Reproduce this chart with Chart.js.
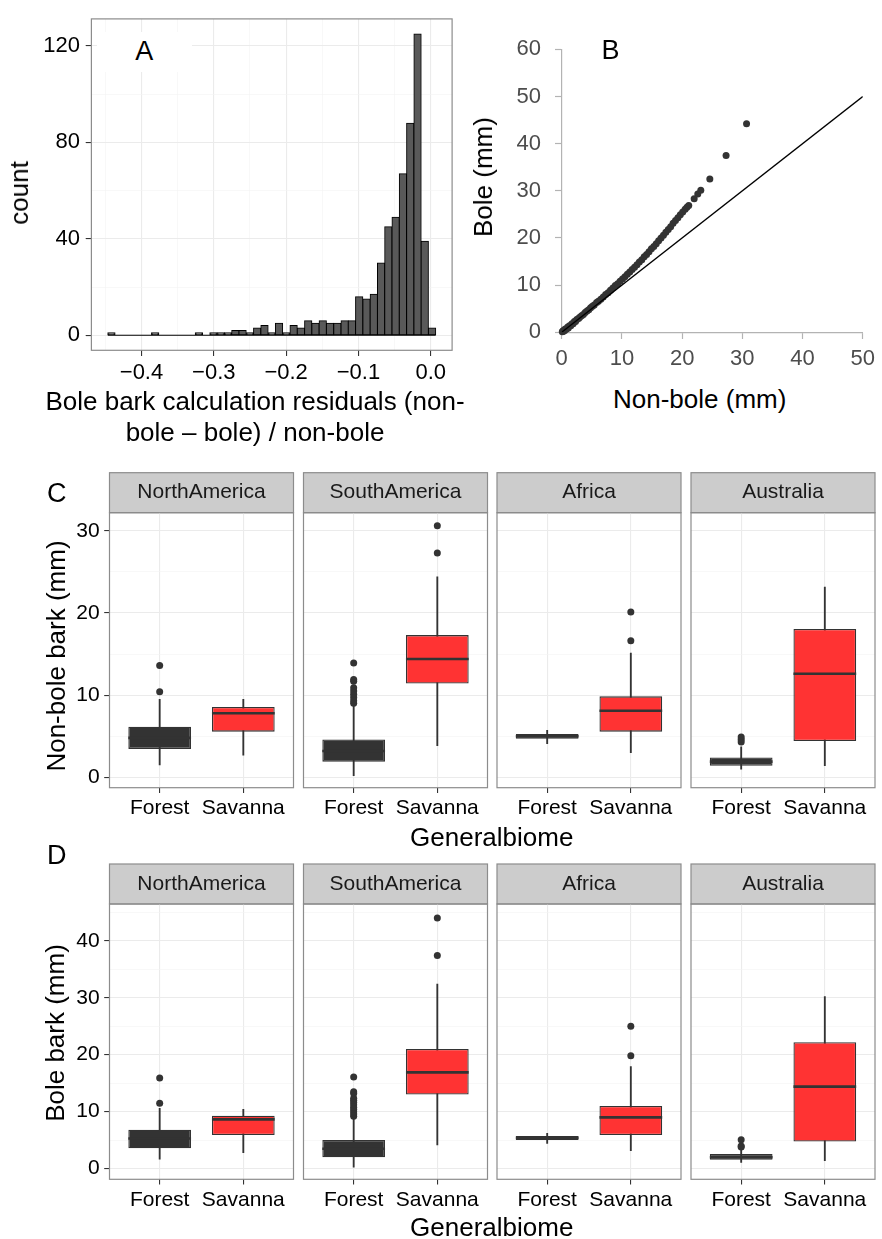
<!DOCTYPE html>
<html><head><meta charset="utf-8">
<script src="https://cdn.jsdelivr.net/npm/chart.js@4.4.0/dist/chart.umd.min.js"></script>
<style>
html,body{margin:0;padding:0;background:#fff;}
body{width:882px;height:1239px;position:relative;overflow:hidden;font-family:'Liberation Sans',Arial,Helvetica,sans-serif;}
canvas{position:absolute;}
.t{position:absolute;white-space:nowrap;line-height:1;color:#000;font-size:26px;}
.rot{transform:translate(-50%,-50%) rotate(-90deg);}
.hc{transform:translateX(-50%);}
.lab{font-size:27px;}
</style></head><body>
<div id="plots"></div>
<div class="t rot" style="left:19.3px;top:192.7px">count</div>
<div class="t hc" style="left:255px;top:386.2px;line-height:31px;text-align:center">Bole bark calculation residuals (non-<br>bole – bole) / non-bole</div>
<div class="t lab" style="left:96.7px;top:31.7px;width:95px;height:40px;line-height:38px;text-align:center;background:#fff">A</div>
<div class="t lab hc" style="left:610.5px;top:37.2px">B</div>
<div class="t rot" style="left:482.7px;top:176.7px">Bole (mm)</div>
<div class="t hc" style="left:699.7px;top:386.3px">Non-bole (mm)</div>
<div class="t lab hc" style="left:56.7px;top:479.9px">C</div>
<div class="t rot" style="left:56px;top:656px">Non-bole bark (mm)</div>
<div class="t hc" style="left:491.7px;top:823.7px">Generalbiome</div>
<div class="t lab hc" style="left:56.7px;top:842.2px">D</div>
<div class="t rot" style="left:55px;top:1033px">Bole bark (mm)</div>
<div class="t hc" style="left:491.7px;top:1214px">Generalbiome</div>
<script>
// ---------------- DATA ----------------
// Panel A: histogram of residuals (bin centres, counts)
const histBinCenters = [-0.4416,-0.4315,-0.4214,-0.4114,-0.4013,-0.3912,-0.3811,-0.3710,-0.3610,-0.3509,
  -0.3408,-0.3307,-0.3206,-0.3106,-0.3005,-0.2904,-0.2803,-0.2702,-0.2602,-0.2501,
  -0.2400,-0.2299,-0.2198,-0.2098,-0.1997,-0.1896,-0.1795,-0.1694,-0.1594,-0.1493,
  -0.1392,-0.1291,-0.1190,-0.1090,-0.0989,-0.0888,-0.0787,-0.0686,-0.0586,-0.0485,
  -0.0384,-0.0283,-0.0182,-0.0082,0.0019];
const histCounts = [1,0,0,0,0,0,1,0,0,0, 0,0,1,0,1,1,1,2,2,1, 3,4,1,5,1,4,3,6,5,6, 5,5,6,6,16,15,17,30,45,49, 67,88,125,39,3];
const histBinWidth = 0.01008;
const histXTicks = [-0.45,-0.4,-0.35,-0.3,-0.25,-0.2,-0.15,-0.1,-0.05,0];
const histXMajor = [-0.4,-0.3,-0.2,-0.1,0];
const histYTicks = [0,20,40,60,80,100,120];
const histYMajor = [0,40,80,120];

// Panel B: bole vs non-bole bark thickness (mm)
const nonBoleMm = [0.1,0.2,0.3,0.4,0.5,0.6,0.8,1.0,1.1,1.3,1.5,1.7,1.9,2.1,2.3,2.5,2.8,3.0,3.3,3.6,
  3.9,4.2,4.5,4.8,5.1,5.4,5.8,6.1,6.5,6.9,7.3,7.7,8.1,8.5,8.9,9.3,9.7,10.1,10.5,10.9,
  11.3,11.7,12.1,12.5,12.9,13.3,13.7,14.1,14.5,14.9,15.3,15.7,16.1,16.5,16.9,17.3,17.7,18.1,18.5,18.9,
  19.3,19.7,20.1,20.5,20.8,21.1,22.0,22.6,23.1,24.6,27.3,30.7];
const boleMm = [0.1,0.3,0.2,0.5,0.4,0.7,0.7,1.1,0.9,1.4,1.4,1.8,1.8,2.3,2.3,2.7,2.9,3.2,3.5,3.8,
  4.2,4.5,4.8,5.2,5.5,5.8,6.3,6.6,7.0,7.5,8.0,8.4,8.9,9.4,9.9,10.3,10.8,11.3,11.8,12.3,
  12.8,13.3,13.8,14.3,14.9,15.4,16.0,16.5,17.1,17.7,18.2,18.8,19.4,20.0,20.6,21.2,21.8,22.4,23.1,23.7,
  24.3,24.9,25.5,26.1,26.5,26.9,28.3,29.3,30.1,32.5,37.5,44.2];
const refLineX = [0, 50];
const refLineY = [0, 50];
const bTicksX = [0,10,20,30,40,50];
const bTicksY = [0,10,20,30,40,50,60];

// Panels C/D: boxplots per region x biome  ([region][Forest, Savanna])
const regions = ['NorthAmerica','SouthAmerica','Africa','Australia'];
const biomes = ['Forest','Savanna'];
// C: non-bole bark (mm)
const cLow  = [[1.5,2.7],[0.2,3.85],[4.1,3.0],[1.0,1.4]];
const cQ1   = [[3.45,5.55],[1.9,11.4],[4.7,5.55],[1.4,4.4]];
const cMed  = [[4.8,7.8],[3.2,14.4],[5.0,8.1],[1.9,12.6]];
const cQ3   = [[6.15,8.55],[4.6,17.3],[5.27,9.85],[2.4,18.05]];
const cHigh = [[9.5,9.5],[8.8,24.4],[5.7,15.1],[3.7,23.15]];
const cOutForest  = [[10.4,13.6],[9.0,9.3,9.7,10.1,10.5,10.9,11.7,11.9,13.9],[],[4.3,4.6,4.9]];
const cOutSavanna = [[],[27.3,30.6],[16.6,20.1],[]];
const cYTicks = [0,5,10,15,20,25,30];
const cYMajor = [0,10,20,30];
// D: bole bark (mm)
const dLow  = [[1.65,2.8],[0.25,4.15],[4.45,3.15],[1.1,1.4]];
const dQ1   = [[3.6,5.9],[2.0,13.0],[5.05,5.9],[1.55,4.75]];
const dMed  = [[5.3,8.65],[3.5,16.9],[5.4,9.0],[2.0,14.4]];
const dQ3   = [[6.85,9.3],[5.05,21.0],[5.75,11.0],[2.6,22.2]];
const dHigh = [[10.6,10.4],[8.9,32.4],[6.2,17.9],[3.3,30.2]];
const dOutForest  = [[11.5,15.9],[9.2,9.6,10.0,10.4,10.8,11.2,11.6,12.0,12.35,13.2,13.5,16.1],[],[3.8,4.0,5.1]];
const dOutSavanna = [[],[37.4,44.0],[19.8,25.0],[]];
const dYTicks = [0,5,10,15,20,25,30,35,40,45];
const dYMajor = [0,10,20,30,40];

// ---------------- LAYOUT / STYLE ----------------
const FONT = "'Liberation Sans', Arial, Helvetica, sans-serif";
Chart.defaults.font.family = FONT;
Chart.defaults.color = '#000';
Chart.defaults.animation = false;
Chart.defaults.events = [];
Chart.defaults.plugins.legend.display = false;
Chart.defaults.plugins.tooltip.enabled = false;

const near = (v, list) => list.some(m => Math.abs(m - v) < 1e-9);
const fmtDec = v => (v < -1e-9 ? '\u2212' : '') + Math.abs(v).toFixed(1);

function makeCanvas(left, top, w, h) {
  const c = document.createElement('canvas');
  c.width = w; c.height = h;
  c.style.left = left + 'px'; c.style.top = top + 'px';
  c.style.width = w + 'px'; c.style.height = h + 'px';
  document.getElementById('plots').appendChild(c);
  return c;
}

const framePlugin = {
  id: 'frame',
  beforeDraw(chart, args, o) {
    if (!o.strip) return;
    const {ctx, chartArea: a} = chart;
    ctx.save();
    ctx.fillStyle = o.stripFill;
    ctx.fillRect(a.left, a.top - o.strip, a.right - a.left, o.strip);
    ctx.strokeStyle = o.color; ctx.lineWidth = o.width;
    ctx.strokeRect(a.left, a.top - o.strip, a.right - a.left, o.strip);
    ctx.restore();
  },
  afterDatasetsDraw(chart, args, o) {
    if (!o.color) return;
    const {ctx, chartArea: a} = chart;
    ctx.save();
    ctx.strokeStyle = o.color; ctx.lineWidth = o.width;
    ctx.strokeRect(a.left, a.top, a.right - a.left, a.bottom - a.top);
    ctx.restore();
  }
};

function bwGrid(majorList, drawTicks, tickLength) {
  const isMaj = c => c.tick && near(c.tick.value, majorList);
  return {
    offset: false,
    color: c => isMaj(c) ? '#ebebeb' : '#f4f4f4',
    lineWidth: c => isMaj(c) ? 1.1 : 0.6,
    drawTicks: drawTicks,
    tickLength: tickLength,
    tickWidth: 1.1,
    tickColor: c => isMaj(c) ? '#333333' : 'rgba(0,0,0,0)'
  };
}

// ---------------- PANEL A ----------------
(function () {
  const cv = makeCanvas(0, 0, 460, 392);
  new Chart(cv, {
    type: 'bar',
    data: {
      datasets: [
        { type: 'bar', data: histBinCenters.map((x, i) => ({x: x, y: histCounts[i]})),
          backgroundColor: '#595959', borderColor: '#000', borderWidth: 1, borderSkipped: false,
          inflateAmount: 0.5, barPercentage: 1, categoryPercentage: 1, order: 0 },
        { type: 'line', data: [
            {x: histBinCenters[0] - histBinWidth / 2, y: 0},
            {x: histBinCenters[histBinCenters.length - 1] + histBinWidth / 2, y: 0}],
          borderColor: '#000', borderWidth: 1, pointRadius: 0, order: 1 }
      ]
    },
    options: {
      responsive: false, devicePixelRatio: 1,
      layout: {padding: {left: 0, top: 13.4, right: 7.9, bottom: 0}},
      scales: {
        x: {
          type: 'linear', min: -0.4693, max: 0.0296, bounds: 'data', offset: false,
          afterBuildTicks: s => { s.ticks = histXTicks.map(v => ({value: v})); },
          afterFit: s => { s.height = 41.7; },
          ticks: {autoSkip: false, minRotation: 0, maxRotation: 0, padding: 3.3, font: {size: 22}, color: '#000',
            callback: v => near(v, histXMajor) ? fmtDec(v) : ''},
          grid: bwGrid(histXMajor, true, 5.7),
          border: {display: false}
        },
        y: {
          type: 'linear', min: -6.25, max: 131.25, bounds: 'data',
          afterBuildTicks: s => { s.ticks = histYTicks.map(v => ({value: v})); },
          afterFit: s => { s.width = 91.4; },
          ticks: {autoSkip: false, padding: 5.7, font: {size: 22}, color: '#000',
            callback: v => near(v, histYMajor) ? String(v) : ''},
          grid: bwGrid(histYMajor, true, 5.7),
          border: {display: false}
        }
      },
      plugins: {frame: {color: '#8c8c8c', width: 1.2}}
    },
    plugins: [framePlugin]
  });
})();

// ---------------- PANEL B ----------------
(function () {
  const cv = makeCanvas(460, 0, 422, 380);
  const axisCol = '#b3b3b3';
  new Chart(cv, {
    type: 'scatter',
    data: {
      datasets: [
        { type: 'line', data: refLineX.map((x, i) => ({x: x, y: refLineY[i]})),
          borderColor: '#000', borderWidth: 1.4, pointRadius: 0, order: 0 },
        { type: 'scatter', data: nonBoleMm.map((x, i) => ({x: x, y: boleMm[i]})),
          pointRadius: 3.5, pointBackgroundColor: '#333333', pointBorderWidth: 0, clip: false, order: 1 }
      ]
    },
    options: {
      responsive: false, devicePixelRatio: 1,
      layout: {padding: {left: 0, top: 49.3, right: 16.3, bottom: 0}},
      scales: {
        x: {
          type: 'linear', min: 0, max: 50, bounds: 'data',
          afterBuildTicks: s => { s.ticks = bTicksX.map(v => ({value: v})); },
          afterFit: s => { s.height = 47.7; },
          ticks: {autoSkip: false, minRotation: 0, maxRotation: 0, padding: 7, font: {size: 22}, color: '#4d4d4d'},
          grid: {drawOnChartArea: false, drawTicks: true, tickLength: 6.7, tickColor: axisCol, tickWidth: 1.2},
          border: {display: true, color: axisCol, width: 1.2}
        },
        y: {
          type: 'linear', min: 0, max: 60, bounds: 'data',
          afterBuildTicks: s => { s.ticks = bTicksY.map(v => ({value: v})); },
          afterFit: s => { s.width = 101.7; },
          ticks: {autoSkip: false, padding: 14, font: {size: 22}, color: '#4d4d4d'},
          grid: {drawOnChartArea: false, drawTicks: true, tickLength: 6.7, tickColor: axisCol, tickWidth: 1.2},
          border: {display: true, color: axisCol, width: 1.2}
        }
      }
    }
  });
})();

// ---------------- PANELS C / D ----------------
const facetLefts = [109.5, 303.5, 497, 691];
const facetWidth = 184;
const stripH = 40;
const boxWidthFrac = 0.75;
const rowGeom = {
  C: {panelTop: 512.7, panelBottom: 787.7, canvasTop: 465, canvasBottom: 830, yMin: -1.27, yMax: 32.2},
  D: {panelTop: 904, panelBottom: 1179.3, canvasTop: 856, canvasBottom: 1221, yMin: -1.86, yMax: 46.44}
};
const biomeFill = ['#333333', '#FF3333'];

function makeFacet(g, r, st, yTicks, yMajor) {
  const L = facetLefts[r];
  const cl = r === 0 ? 0 : Math.floor(L) - 8;
  const cr = Math.min(882, Math.ceil(L + facetWidth) + 6);
  const cv = makeCanvas(cl, g.canvasTop, cr - cl, g.canvasBottom - g.canvasTop);
  const yW = L - cl;
  const padR = (cr - cl) - yW - facetWidth;
  const padTop = g.panelTop - g.canvasTop - stripH;
  const xH = g.canvasBottom - g.panelBottom;
  const xs = biomes.map((b, j) => j + 1);
  const halfBox = c => {
    const s = c.chart.scales.x;
    return boxWidthFrac * (s.getPixelForValue(2) - s.getPixelForValue(1)) / 2;
  };
  const outliers = [];
  st.outF[r].forEach(v => outliers.push({x: xs[0], y: v}));
  st.outS[r].forEach(v => outliers.push({x: xs[1], y: v}));
  new Chart(cv, {
    type: 'bar',
    data: {
      datasets: [
        { type: 'scatter', data: st.med[r].map((m, j) => ({x: xs[j], y: m})),
          pointStyle: 'line', pointRadius: halfBox, pointBorderColor: '#333333', pointBorderWidth: 2.6, order: 0 },
        { type: 'scatter', data: outliers,
          pointRadius: 3.5, pointBackgroundColor: '#333333', pointBorderWidth: 0, order: 1 },
        { type: 'bar', data: st.q1[r].map((a, j) => ({x: xs[j], y: [a, st.q3[r][j]]})),
          backgroundColor: biomeFill, borderColor: '#333333', borderWidth: 1.3, borderSkipped: false,
          barPercentage: boxWidthFrac, categoryPercentage: 1, grouped: false, order: 2 },
        { type: 'bar', data: st.low[r].map((a, j) => ({x: xs[j], y: [a, st.high[r][j]]})),
          backgroundColor: '#333333', barThickness: 1.2, grouped: false, order: 3 }
      ]
    },
    options: {
      responsive: false, devicePixelRatio: 1,
      layout: {padding: {left: 0, top: padTop, right: padR, bottom: 0}},
      scales: {
        x: {
          type: 'linear', min: 0.4, max: 2.6, bounds: 'data', offset: false,
          afterBuildTicks: s => { s.ticks = xs.map(v => ({value: v})); },
          afterFit: s => { s.height = xH; },
          ticks: {autoSkip: false, minRotation: 0, maxRotation: 0, padding: 2.7, font: {size: 21}, color: '#000',
            callback: v => biomes[Math.round(v) - 1] || ''},
          grid: bwGrid(xs, true, 5.3),
          border: {display: false}
        },
        y: {
          type: 'linear', min: g.yMin, max: g.yMax, bounds: 'data',
          afterBuildTicks: s => { s.ticks = yTicks.map(v => ({value: v})); },
          afterFit: s => { s.width = yW; },
          ticks: {display: r === 0, autoSkip: false, padding: 4.5, font: {size: 21}, color: '#000',
            callback: v => near(v, yMajor) ? String(v) : ''},
          grid: bwGrid(yMajor, r === 0, 5.3),
          border: {display: false}
        }
      },
      plugins: {
        title: {display: true, text: regions[r], fullSize: false, font: {size: 21, weight: 'normal'}, color: '#1a1a1a',
          padding: {top: 7.4, bottom: 7.4}},
        frame: {color: '#8c8c8c', width: 1.2, strip: stripH, stripFill: '#cccccc'}
      }
    },
    plugins: [framePlugin]
  });
}

const cStats = {low: cLow, q1: cQ1, med: cMed, q3: cQ3, high: cHigh, outF: cOutForest, outS: cOutSavanna};
const dStats = {low: dLow, q1: dQ1, med: dMed, q3: dQ3, high: dHigh, outF: dOutForest, outS: dOutSavanna};
regions.forEach((name, r) => {
  makeFacet(rowGeom.C, r, cStats, cYTicks, cYMajor);
  makeFacet(rowGeom.D, r, dStats, dYTicks, dYMajor);
});
</script>
</body></html>
